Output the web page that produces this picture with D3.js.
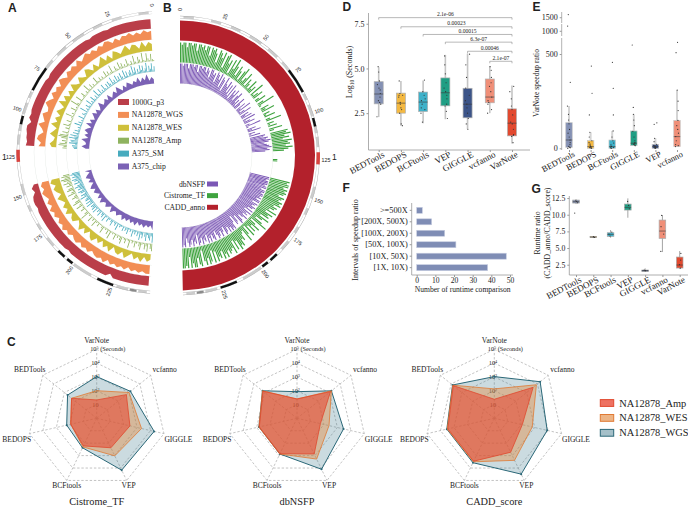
<!DOCTYPE html>
<html><head><meta charset="utf-8">
<script src="https://cdn.jsdelivr.net/npm/d3@7"></script>
<style>html,body{margin:0;background:#fff}svg{display:block}text{font-family:"Liberation Serif",serif;fill:#222}</style>
</head><body><svg id="c" width="688" height="508"></svg>
<script>
// ---------- data ----------
const chrLength = 248;
const chrTicks = [0,25,50,75,100,125,150,175,200,225];
const bandGray = [[2,8],[18,24],[30,36],[42,50],[55,62],[66,72],[88,92],[95,102],[108,112],[114,120],[143,150],[156,160],[168,172],[178,184],[200,212],[228,235],[241,246]];
const bandDark = [[236,240]];
const bandBlack = [[72,87],[103,108],[188,193],[195,199],[216,226]];
const bandCentromere = [[123,130]];

const g1000 = [9,9,9,9,9,9,9,9,9,9, 9,8,9,9,9,9,8,9,9,9, 9,9,9,9,9,9,9,9,9,9, 8,9,9,9,9,9,9,9,9,9, 8,9,6,9,9,8,8,7,8,0, 0,0,0,0,0,0,0,0,4,7, 5,8,9,9,8,9,9,9,9,9, 9,9,9,9,9,9,9,8,9,9, 9,9,9,9,9,9,9,9,9,6, 9,9,9,9,9,9,9,9,9,9];
const wgs = [8,7,9,6,8,6,9,7,8,5, 8,5,8,9,6,8,5,8,6,9, 7,5,9,5,8,6,8,4,7,9, 4,7,5,8,4,7,9,5,4,8, 6,4,9,5,3,7,8,4,6,0, 0,0,0,0,0,0,0,0,6,8, 6,9,7,5,8,5,9,6,8,5, 8,6,9,6,8,5,7,8,5,8, 6,8,5,7,8,6,9,5,8,6, 8,6,8,5,8,6,8,6,8,8];
const wes = [6,8,4,9,3,7,8,4,9,6, 3,6,8,2,7,3,9,5,2,7, 2,6,8,2,4,7,2,4,8,2, 6,2,7,3,9,2,4,7,2,6, 3,8,2,4,7,2,3,6,4,0, 0,0,0,0,0,0,0,0,7,9, 5,8,6,3,8,5,3,7,4,8, 3,6,7,2,4,8,3,7,2,6, 8,3,6,2,7,4,8,2,6,7, 3,8,5,2,7,4,8,3,7,5];
const amp = [1,2,7,1,3,8,1,2,9,1, 3,6,1,2,8,1,4,1,2,7, 1,3,1,5,2,7,1,2,5,1, 1,8,2,1,4,1,6,1,1,3, 1,4,1,2,7,1,1,3,1,5, 1,2,8,1,3,1,1,5,2,1, 1,7,1,1,3,9,1,2,1,6, 1,1,3,1,8,2,1,1,5,1, 2,7,1,4,1,1,6,2,8,9, 6,1,5,2,7,8,3,4,0,0, 0,0,0,0,0,0,0,0,0,0, 0,0,0,0,0,0,6,8,5,9, 7,4,8,3,6,1,5,7,2,4, 8,1,3,6,2,1,5,8,1,3, 7,1,2,5,1,1,4,9,1,2, 1,6,1,3,1,7,2,1,4,1, 1,3,7,1,2,1,5,1,8,1, 2,1,6,1,3,1,4,7,1,2, 5,1,2,8,1,3,1,6,2,1, 4,7,2,1,6,3,8,1,5,7];
const sm = [5,2,8,3,6,1,9,4,2,7, 3,8,2,5,1,7,3,9,2,6, 4,1,6,2,8,1,3,7,1,5, 2,7,1,4,2,8,1,3,6,1, 5,1,2,7,1,3,1,6,1,2, 8,1,4,1,2,6,1,3,1,7, 1,2,5,1,3,1,8,1,2,4, 1,1,6,1,2,1,4,1,7,1, 3,1,2,5,1,6,2,8,4,9, 3,7,6,8,2,5,4,3,0,0, 0,0,0,0,0,0,0,0,0,0, 0,0,0,0,0,0,7,9,6,8, 5,9,7,4,8,3,6,9,5,7, 3,8,6,2,7,4,9,3,5,6, 2,7,3,8,1,5,4,6,2,7, 1,4,2,6,1,3,5,1,7,2, 1,5,2,1,3,6,1,2,4,1, 7,1,3,2,1,5,1,4,2,6, 1,3,1,7,2,4,1,5,2,8, 3,6,1,4,8,2,5,7,3,9];
const chip = [4,6,3,9,4,7,3,8,4,6, 3,5,7,3,6,2,5,8,3,6, 4,2,7,3,6,4,3,8,4,2, 6,3,7,4,2,6,3,8,2,5, 7,3,6,2,8,4,3,7,3,0, 0,0,0,0,0,0,0,0,6,2, 5,7,3,6,2,5,7,3,6,4, 2,6,3,7,4,3,6,4,2,7, 4,3,6,4,3,7,4,6,3,6, 4,7,3,6,4,7,4,6,4,8];
const cistrome = [9,8,9,9,7,9,9,8,9,9, 6,9,9,8,9,7,9,9,5,9, 8,9,7,3,9,8,6,9,2,8, 9,5,7,1,8,4,9,6,2,7, 5,1,6,8,2,4,7,1,5,3, 1,6,2,4,0,7,1,3,5,0, 2,5,0,3,8,1,0,4,2,6, 0,3,1,5,0,2,7,0,3,1, 4,0,6,2,0,8,7,9,6,8, 5,9,7,8,6,9,7,5,0,0, 0,0,0,2,2,0,0,0,0,0, 0,0,0,0,0,0,9,8,9,9, 7,9,8,9,8,6,9,8,7,9, 8,9,6,8,7,5,9,4,8,6, 7,3,8,5,2,6,9,1,4,7, 3,6,2,7,1,5,8,2,3,6, 5,8,7,9,4,8,3,9,6,7, 8,6,9,7,9,5,8,7,9,4, 9,3,8,9,6,9,7,2,9,8, 5,9,9,7,9,4,9,8,9,9];
const dbnsfp = [9,9,8,9,9,9,7,9,9,9, 8,9,9,6,9,9,8,9,9,7, 9,8,5,9,9,7,8,4,9,8, 6,9,3,8,7,2,9,6,5,8, 3,7,2,8,1,6,4,7,2,5, 7,2,4,1,6,3,0,5,2,7, 1,3,6,0,4,2,5,0,6,1, 3,5,0,2,7,1,0,4,2,6, 0,3,1,5,0,7,6,8,7,9, 8,6,7,8,9,7,8,6,0,0, 0,0,0,0,0,0,0,0,0,0, 0,0,0,0,0,0,9,9,8,9, 9,9,8,9,9,7,9,9,8,9, 9,8,9,7,9,9,6,9,8,7, 9,8,6,9,5,9,7,8,6,9, 7,5,8,9,4,7,8,3,6,9, 8,9,7,9,6,8,9,5,7,9, 6,8,9,7,5,9,8,6,9,7, 9,5,8,7,9,6,8,9,4,8, 7,9,6,8,9,7,5,9,8,9];
const cadd = [9];

const tracksANames = ["1000G_p3","NA12878_WGS","NA12878_WES","NA12878_Amp","A375_SM","A375_chip"];
const tracksBNames = ["dbNSFP","Cistrome_TF","CADD_anno"];

const tools = ["BEDTools","BEDOPS","BCFtools","VEP","GIGGLE","vcfanno","VarNote"];
const toolsE = ["BEDTools","BEDOPS","BCFtools","GIGGLE","VEP","vcfanno"];
const dLow  = [2.28,1.79,1.94,2.16,1.62,2.50,0.81];
const dQ1   = [3.02,2.50,2.59,2.91,2.24,3.08,1.23];
const dMed  = [3.57,3.06,3.12,3.64,3.00,3.40,1.94];
const dQ3   = [4.26,3.62,3.68,4.47,3.89,4.41,2.74];
const dHigh = [5.07,4.30,4.33,5.76,5.83,5.12,4.04];
const dPoints = [[2.3,3.0,3.1,3.2,3.4,3.6,3.8,3.9,4.1,4.3,4.8,5.1],[1.8,1.9,2.5,2.7,2.8,3.0,3.1,3.4,3.5,3.5,3.6,4.3],[2.0,2.5,2.7,2.8,3.0,3.2,3.3,3.5,3.7,4.35],[2.2,2.6,2.9,3.0,3.3,3.5,3.7,3.9,4.2,4.7,5.2,5.7],[1.6,1.9,2.2,2.5,2.8,3.0,3.2,3.5,3.9,4.5,5.2,5.8],[2.5,2.7,3.0,3.1,3.2,3.4,3.7,4.0,4.2,4.5,4.9,5.1],[0.85,1.2,1.25,1.3,1.6,1.9,2.0,2.4,2.7,2.9,3.3,3.7,4.0]];
const pLabels = ["2.1e-06","0.00023","0.00015","6.3e-07","0.00046","2.1e-07"];
const pFrom = ["BEDTools","BEDOPS","BCFtools","VEP","GIGGLE","vcfanno"];
const pLevel = [7.84,7.33,6.9,6.47,5.96,5.4];

const eLow  = [0,0,0,14,0,9];
const eQ1   = [5,0,0,14,0,9];
const eMed  = [44,9,9,27,9,62];
const eQ3   = [136,41,44,92,21,148];
const eHigh = [224,85,92,180,53,309];
const ePoints = [[0,3,5,10,20,30,44,60,80,100,130,150,180,224,350,1090,1600],[0,2,4,6,9,14,22,30,40,60,85,177,292,436],[0,2,4,8,10,18,28,40,60,92,177,318,456],[14,18,22,27,30,40,60,90,120,150,180,217,548],[0,2,4,6,9,12,16,21,35,53,127,135],[9,14,20,40,62,80,100,120,148,200,250,309,507,562]];

const fCats = [">=500X","[200X, 500X)","[100X, 200X)","[50X, 100X)","[10X, 50X)","[1X, 10X)"];
const fVals = [3,8,15,21,48,38];

const gLow  = [11.6,6.5,6.55,9.55,1.45,4.4,1.85];
const gQ1   = [11.75,6.6,6.75,10.7,1.5,6.45,2.0];
const gMed  = [11.95,6.65,7.05,11.1,1.6,7.55,2.45];
const gQ3   = [12.2,6.75,7.3,11.6,1.7,9.2,3.65];
const gHigh = [12.35,6.8,7.7,12.45,1.95,9.95,4.55];
const gPoints = [[10.25,11.8,12,12.1],[6.6,6.7],[6.8,7.1,7.4],[10.9,11.4,12],[1.6,1.7],[4.5,7.1,8.2,9.9],[2,2.5,3.2,4.2]];

const radarAxes = ["VarNote","vcfanno","GIGGLE","VEP","BCFtools","BEDOPS","BEDTools"];
const radarSeries = ["NA12878_Amp","NA12878_WES","NA12878_WGS"];
const cistromeWGS = [3.02,3.13,4.27,4.17,2.37,2.23,2.70];
const cistromeWES = [2.00,3.00,3.33,3.02,2.30,1.93,2.33];
const cistromeAmp = [1.33,2.75,2.47,2.37,2.22,1.93,2.33];
const dbnsfpWGS = [1.93,3.19,3.46,4.10,2.87,2.83,3.20];
const dbnsfpWES = [1.40,3.19,2.38,3.28,2.87,2.83,3.20];
const dbnsfpAmp = [1.40,3.10,1.74,2.87,2.85,2.80,3.15];
const caddWGS = [3.02,4.25,3.93,4.49,3.57,3.53,3.87];
const caddWES = [2.13,3.90,2.82,3.38,3.50,3.50,3.85];
const caddAmp = [1.38,3.60,2.08,2.73,3.45,3.45,3.80];
const radarLevels = [1,2,3,4,5];
const radarMax = 5;

// ---------- styles ----------
const boxColors = ["#8491B4","#F4B942","#3FB1C9","#1F9E84","#3C5488","#F08F78","#E2492F"];
const boxColorsE = ["#8491B4","#F4B942","#3FB1C9","#1F9E84","#3C5488","#F08F78"];
const radarColors = {NA12878_WGS:["#3F7A8C",.27,"#2B6878"],NA12878_WES:["#E2873C",.42,"#E07A34"],NA12878_Amp:["#E8432E",.55,"#E0492F"]};
const jitter = [-.12,.1,-.05,.14,.02,-.15,.07,-.09,.12,-.02,.05,-.13,.09,0,-.07,.11,-.04];
const svg = d3.select("#c");
const AX = "#999";

function txt(x,y,s,size,anchor,rot,fam,weight){
  const t = svg.append("text").attr("x",x).attr("y",y).attr("font-size",size).attr("text-anchor",anchor||"start").text(s);
  if(rot) t.attr("transform",`rotate(${rot},${x},${y})`);
  if(fam) t.style("font-family",fam);
  if(weight) t.attr("font-weight",weight);
  return t;
}
function hline(x1,x2,y,c,w){svg.append("line").attr("x1",x1).attr("x2",x2).attr("y1",y).attr("y2",y).attr("stroke",c||AX).attr("stroke-width",w||.8);}
function vline(x,y1,y2,c,w){svg.append("line").attr("x1",x).attr("x2",x).attr("y1",y1).attr("y2",y2).attr("stroke",c||AX).attr("stroke-width",w||.8);}
[["A",8,11.5],["B",163,11.5],["C",7,346],["D",342.5,10.5],["E",532.5,10.5],["F",342.5,192],["G",531.5,192.5]].forEach(d=>
  txt(d[1],d[2],d[0],12,"start",0,'"Liberation Sans",sans-serif',"bold").style("fill","#222"));

// ---------- circular panels ----------
const rad = d=>d*Math.PI/180;
function circos(cx,cy,startDeg,endDeg,rIn,rOut,labelR,side,tracks){
  const g = svg.append("g").attr("transform",`translate(${cx},${cy})`);
  const ang = d3.scaleLinear().domain([0,chrLength]).range([rad(startDeg),rad(endDeg)]);
  const arc = d3.arc();
  const ring = (a,b,i,o,f,op)=>g.append("path").attr("d",arc({innerRadius:i,outerRadius:o,startAngle:Math.min(ang(a),ang(b)),endAngle:Math.max(ang(a),ang(b))})).attr("fill",f).attr("opacity",op==null?1:op);
  bandGray.forEach(b=>ring(b[0],b[1],rIn,rOut,"#cccccc"));
  bandDark.forEach(b=>ring(b[0],b[1],rIn,rOut,"#8a8a8a"));
  ring(0,chrLength,rOut-.2,rOut+.2,"#a8a8a8");
  ring(0,chrLength,rIn-.2,rIn+.2,"#bdbdbd");
  bandBlack.forEach(b=>ring(b[0],b[1],rIn,rOut,"#111"));
  bandCentromere.forEach(b=>ring(b[0],b[1],rIn-.5,rOut+.5,"#D8433F"));
  chrTicks.forEach(t=>{
    const a = ang(t), deg=a*180/Math.PI;
    const x = Math.sin(a)*labelR, y = -Math.cos(a)*labelR;
    const rot = side<0 ? deg+90 : deg-90;
    const tt = g.append("text").attr("text-anchor","middle").attr("dy",".35em").attr("font-size",5.3)
      .attr("transform",`translate(${x},${t===125?y+4:y}) rotate(${t===125?0:rot})`).text(t);
    tt.style("font-family",'"Liberation Sans",sans-serif');
  });
  tracks.forEach(tr=>{
    ring(0,chrLength,tr.r0-.2,tr.r0+.2,"#e3e8e4");
    const rs = d3.scaleLinear().domain([0,9]).range([tr.r0,tr.r1]);
    const bin = chrLength/tr.values.length;
    if(tr.area){
      const area = d3.areaRadial().defined(v=>v>0)
        .angle((v,i)=>ang((i+.5)*bin)).innerRadius(tr.r0).outerRadius(v=>rs(v));
      g.append("path").attr("d",area(tr.values)).attr("fill",tr.color);
    } else {
      g.selectAll(null).data(tr.values).join("path").attr("fill",tr.color)
        .attr("d",(v,i)=>{
          if(!v) return null;
          const a0=ang(i*bin), a1=ang((i+1-tr.gap)*bin);
          return arc({innerRadius:tr.r0,outerRadius:rs(v),startAngle:Math.min(a0,a1),endAngle:Math.max(a0,a1)});
        });
    }
  });
  return g;
}
circos(158,152.5,-2.4,-176.8,138.7,141.2,147.5,-1,[
  {values:g1000,r0:124,r1:133.5,color:"#BA3E49",area:true},
  {values:wgs,r0:113,r1:123,color:"#F28E55",area:true},
  {values:wes,r0:102,r1:112,color:"#CFC03B",area:true},
  {values:amp,r0:91.5,r1:101,color:"#8FB35F",gap:.45},
  {values:sm,r0:81,r1:90.5,color:"#47ABBE",gap:.4},
  {values:chip,r0:69,r1:79,color:"#7B62B5",area:true}
]);
circos(180,155.5,0,178.8,137,139.5,146,1,[
  {values:cadd,r0:115,r1:135,color:"#B3212C",gap:0},
  {values:cistrome,r0:93,r1:113,color:"#3FA33F",gap:.3},
  {values:dbnsfp,r0:72,r1:92,color:"#7B57B5",gap:.3}
]);
txt(2,160,"1",8.5,"start",0,'"Liberation Sans",sans-serif');
txt(332,160,"1",8.5,"start",0,'"Liberation Sans",sans-serif');
const aColors = ["#BA3E49","#F28E55","#CFC03B","#8FB35F","#47ABBE","#7B62B5"];
const aLegY = d3.scalePoint().domain(tracksANames).range([102,166.5]);
tracksANames.forEach((n,i)=>{
  svg.append("rect").attr("x",118).attr("y",aLegY(n)-3).attr("width",11).attr("height",6).attr("fill",aColors[i]);
  txt(131.7,aLegY(n)+2.5,n,7.7);
});
const bColors = ["#7B57B5","#3FA33F","#B3212C"];
const bLegY = d3.scalePoint().domain(tracksBNames).range([184,207.3]);
tracksBNames.forEach((n,i)=>{
  svg.append("rect").attr("x",207).attr("y",bLegY(n)-2.5).attr("width",11).attr("height",5).attr("fill",bColors[i]);
  txt(205,bLegY(n)+2.5,n,7.7,"end");
});

// ---------- box plots ----------
function boxes(x,y,names,low,q1,med,q3,high,pts,colors,w,opt){
  names.forEach((n,i)=>{
    const cx=x(n);
    vline(cx,y(low[i]),y(high[i]),opt.wc,opt.ww);
    svg.append("rect").attr("x",cx-w/2).attr("width",w).attr("y",y(q3[i])).attr("height",Math.max(.5,y(q1[i])-y(q3[i])))
      .attr("fill",colors[i]).attr("stroke",opt.bc).attr("stroke-width",.7);
    hline(cx-w/2,cx+w/2,y(med[i]),"#3b3b3b",.6);
    pts[i].forEach((p,j)=>{
      svg.append("circle").attr("cx",cx+jitter[(j*3+i)%jitter.length]*w*1.6).attr("cy",y(p)).attr("r",.6).attr("fill","#333");
    });
  });
}
function xAxis(x,y0,sz,rot,dx){
  const a = svg.append("g").attr("transform",`translate(0,${y0})`).call(d3.axisBottom(x).tickSize(2).tickPadding(1));
  a.select(".domain").remove();
  a.selectAll("line").attr("stroke",AX);
  a.selectAll("text").attr("font-size",sz).style("font-family",'"Liberation Serif",serif').attr("text-anchor","end")
    .attr("dy","0.6em").attr("dx",dx).attr("transform",`rotate(${rot})`);
}
function yAxis(y,x0,vals,fmt,sz){
  const a = svg.append("g").attr("transform",`translate(${x0},0)`).call(d3.axisLeft(y).tickValues(vals).tickFormat(fmt).tickSize(2).tickPadding(2));
  a.select(".domain").remove();
  a.selectAll("line").attr("stroke",AX);
  a.selectAll("text").attr("font-size",sz).style("font-family",'"Liberation Serif",serif');
}

// D
const xD = d3.scalePoint().domain(tools).range([378.7,512]);
const yD = d3.scaleLinear().domain([0.44,8.1]).range([150,13]);
vline(368.5,13,150); hline(368.5,530,150);
boxes(xD,yD,tools,dLow,dQ1,dMed,dQ3,dHigh,dPoints,boxColors,9,{wc:"#c4c4c4",ww:1.6,bc:"#b0b0b0"});
yAxis(yD,368.5,[2.5,5,7.5],d3.format(".1f"),8);
xAxis(xD,150,9,-28,"0.25em");
const logT = svg.append("text").attr("transform","translate(352,72) rotate(-90)").attr("text-anchor","middle").attr("font-size",8);
logT.append("tspan").text("Log");logT.append("tspan").attr("font-size",5.5).attr("dy",2).text("10");logT.append("tspan").attr("dy",-2).text(" (Seconds)");
pLabels.forEach((p,i)=>{
  const x0=xD(pFrom[i]),x1=xD("VarNote"),yy=yD(pLevel[i]);
  svg.append("path").attr("d",`M${x0},${yy+2}V${yy}H${x1}V${yy+2}`).attr("fill","none").attr("stroke","#888").attr("stroke-width",.6);
  txt((x0+x1)/2,yy-1.5,p,5.6,"middle");
});

// E
const xE = d3.scalePoint().domain(toolsE).range([569,677]);
const yE = d3.scaleLinear().domain([0,585,900,1130,1280,1700]).range([148.3,38,36,24,23,12]);
[[150,38],[36,24],[23,12]].forEach(s=>vline(561.7,s[0],s[1],"#aaa",.9));
boxes(xE,yE,toolsE,eLow,eQ1,eMed,eQ3,eHigh,ePoints,boxColorsE,6.5,{wc:"#d4d4d4",ww:2,bc:"#c8c8c8"});
yAxis(yE,561.7,[0,500,1000,1500],d3.format("d"),8);
xAxis(xE,150,8.5,-27,"0.3em");
txt(539,83,"VarNote speedup ratio",7.6,"middle",-90);

// F
const yF = d3.scaleBand().domain(fCats).range([204.6,273.4]).paddingInner(.48).paddingOuter(.24);
const xF = d3.scaleLinear().domain([0,50]).range([416.7,510]);
vline(411.7,203,275); hline(411.7,513,275);
svg.selectAll(null).data(fVals).join("rect").attr("x",xF(0)).attr("y",(d,i)=>yF(fCats[i])).attr("height",yF.bandwidth())
  .attr("width",d=>xF(d)-xF(0)).attr("fill","#7F8DB5").attr("stroke","#C5CCDF").attr("stroke-width",.6);
{
  const a=svg.append("g").attr("transform","translate(411.7,0)").call(d3.axisLeft(yF).tickSize(2).tickPadding(2));
  a.select(".domain").remove();a.selectAll("line").attr("stroke",AX);
  a.selectAll("text").attr("font-size",8.3).style("font-family",'"Liberation Serif",serif');
  const b=svg.append("g").attr("transform","translate(0,275)").call(d3.axisBottom(xF).tickValues([0,10,20,30,40,50]).tickSize(2).tickPadding(1));
  b.select(".domain").remove();b.selectAll("line").attr("stroke",AX);
  b.selectAll("text").attr("font-size",7.6).style("font-family",'"Liberation Serif",serif');
}
txt(358,240,"Intervals of speedup ratio",8,"middle",-90);
txt(462.7,291.5,"Number of runtime comparison",7.6,"middle");

// G
const xG = d3.scalePoint().domain(tools).range([576,679.7]);
const yG = d3.scaleLinear().domain([1,12.9]).range([274.7,195.4]);
vline(569.3,196,275); hline(569.3,688,275);
boxes(xG,yG,tools,gLow,gQ1,gMed,gQ3,gHigh,gPoints,boxColors,6.6,{wc:"#666",ww:.6,bc:"#aaa"});
yAxis(yG,569.3,[2.5,5,7.5,10,12.5],d3.format(".1f"),7.8);
xAxis(xG,275,9,-28,"0.2em");
txt(539.5,233,"Runtime ratio",7.8,"middle",-90);
txt(550,233,"(CADD_anno/CADD_score)",7.8,"middle",-90);

// ---------- radar ----------
const rR = d3.scaleLinear().domain([0,radarMax]).range([0,69]);
const lineR = d3.lineRadial().angle((d,i)=>i*2*Math.PI/7).radius(d=>rR(d)).curve(d3.curveLinearClosed);
const radarLabelPos = {VarNote:[0,-77.6,"middle"],vcfanno:[68,-49,"middle"],GIGGLE:[81.7,21,"middle"],VEP:[32,67.4,"middle"],BCFtools:[-30,67.4,"middle"],BEDOPS:[-80,21,"middle"],BEDTools:[-67,-49,"middle"]};
function radar(cx,title,wgsV,wesV,ampV){
  const cy=418.3;
  const g=svg.append("g").attr("transform",`translate(${cx},${cy})`);
  radarLevels.forEach(l=>g.append("path").attr("d",lineR(radarAxes.map(()=>l))).attr("fill","none").attr("stroke","#aaa").attr("stroke-width",.7).attr("stroke-dasharray","2.4,1.8"));
  radarAxes.forEach((a,i)=>{
    const th=i*2*Math.PI/7;
    g.append("line").attr("x2",Math.sin(th)*rR(radarMax)).attr("y2",-Math.cos(th)*rR(radarMax)).attr("stroke","#aaa").attr("stroke-width",.7).attr("stroke-dasharray","2.4,1.8");
    const p=radarLabelPos[a];
    g.append("text").attr("x",p[0]).attr("y",p[1]+2.5).attr("font-size",7.5).attr("text-anchor",p[2]).text(a);
  });
  radarLevels.forEach(l=>{
    const t=g.append("text").attr("y",-rR(l)+2).attr("font-size",6.3).attr("text-anchor",l===5?"start":"middle").attr("x",l===5?-6.5:-1.3).text("10");
    if(l>1){t.append("tspan").attr("font-size",4.2).attr("dy",-2).text(l);}
    if(l===5){t.append("tspan").attr("font-size",6.3).attr("dy",2).text(" (Seconds)");}
  });
  [["NA12878_WGS",wgsV],["NA12878_WES",wesV],["NA12878_Amp",ampV]].forEach(s=>{
    const c=radarColors[s[0]];
    g.append("path").attr("d",lineR(s[1])).attr("fill",c[0]).attr("fill-opacity",c[1]).attr("stroke",c[2]).attr("stroke-width",s[0]==="NA12878_WGS"?1:.8);
    if(s[0]==="NA12878_WGS") s[1].forEach((v,i)=>{
      const th=i*2*Math.PI/7;
      g.append("circle").attr("cx",Math.sin(th)*rR(v)).attr("cy",-Math.cos(th)*rR(v)).attr("r",1).attr("fill",c[2]);
    });
  });
  g.append("text").attr("y",87).attr("text-anchor","middle").attr("font-size",10.3).text(title);
}
radar(96.7,"Cistrome_TF",cistromeWGS,cistromeWES,cistromeAmp);
radar(297,"dbNSFP",dbnsfpWGS,dbnsfpWES,dbnsfpAmp);
radar(494.3,"CADD_score",caddWGS,caddWES,caddAmp);
const cLegY = d3.scalePoint().domain(radarSeries).range([403,432.8]);
radarSeries.forEach(n=>{
  const c=radarColors[n];
  svg.append("rect").attr("x",600.3).attr("y",cLegY(n)-3.4).attr("width",13.4).attr("height",6.8).attr("fill",c[0]).attr("fill-opacity",c[1]+.2).attr("stroke",c[2]).attr("stroke-width",1);
  txt(619.3,cLegY(n)+3.5,n,10.4);
});
</script></body></html>
